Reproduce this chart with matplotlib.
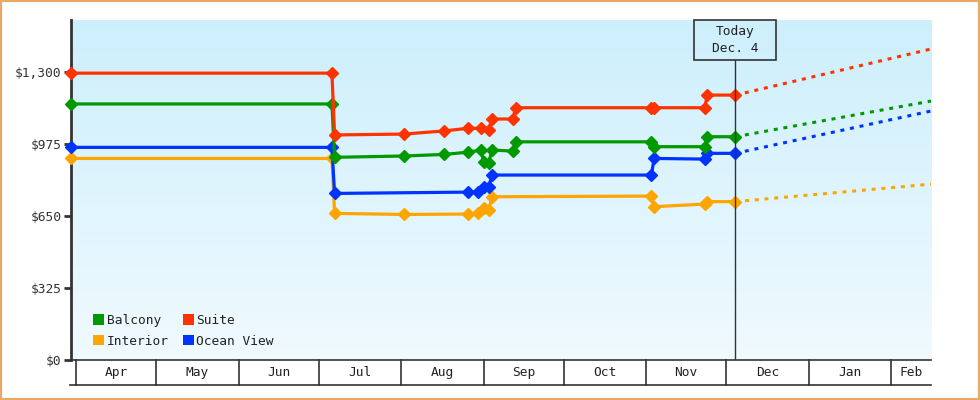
import numpy as np
import pandas as pd
import matplotlib.pyplot as plt
import matplotlib.dates as mdates
from matplotlib.colors import LinearSegmentedColormap
from matplotlib.patches import Rectangle, Patch
from matplotlib.transforms import blended_transform_factory

plt.rcParams['font.family'] = ['DejaVu Sans Mono']

# price history (observed fares)
suite_dates = ["2023-03-30", "2023-07-06", "2023-07-07", "2023-08-02", "2023-08-17", "2023-08-26",
               "2023-08-31", "2023-09-03", "2023-09-04", "2023-09-12", "2023-09-13", "2023-11-03",
               "2023-11-04", "2023-11-23", "2023-11-24", "2023-12-04 12:00"]
suite_prices = [1295, 1295, 1016, 1020, 1034, 1046, 1046, 1038, 1088, 1088, 1139, 1139, 1139, 1139, 1196, 1196]

balcony_dates = ["2023-03-30", "2023-07-06", "2023-07-07", "2023-08-02", "2023-08-17", "2023-08-26",
                 "2023-08-31", "2023-09-01", "2023-09-03", "2023-09-04", "2023-09-12", "2023-09-13",
                 "2023-11-03", "2023-11-04", "2023-11-23", "2023-11-24", "2023-12-04 12:00"]
balcony_prices = [1156, 1156, 915, 921, 928, 938, 948, 895, 891, 948, 943, 985, 985, 963, 963, 1008, 1008]

ocean_dates = ["2023-03-30", "2023-07-06", "2023-07-07", "2023-08-26", "2023-08-30", "2023-09-01",
               "2023-09-03", "2023-09-04", "2023-11-03", "2023-11-04", "2023-11-23", "2023-11-24",
               "2023-12-04 12:00"]
ocean_prices = [960, 960, 752, 758, 758, 783, 780, 835, 835, 910, 907, 933, 933]

interior_dates = ["2023-03-30", "2023-07-06", "2023-07-07", "2023-08-02", "2023-08-26", "2023-08-30",
                  "2023-09-01", "2023-09-03", "2023-09-04", "2023-11-03", "2023-11-04", "2023-11-23",
                  "2023-11-24", "2023-12-04 12:00"]
interior_prices = [910, 910, 662, 657, 659, 662, 685, 677, 737, 740, 692, 704, 715, 715]

# projected prices at end of window
proj_end = "2024-02-16"
proj_prices = {"Suite": 1404, "Balcony": 1169, "Ocean View": 1124, "Interior": 794}

today = "2023-12-04 12:00"
today_label = "Today\nDec. 4"
x_start = "2023-03-30"
y_ticks = [0, 325, 650, 975, 1300]
y_max = 1535

colors_map = {"Balcony": "#009900", "Suite": "#ff3300", "Interior": "#ffa500", "Ocean View": "#0033ff"}

series = [("Interior", interior_dates, interior_prices),
          ("Ocean View", ocean_dates, ocean_prices),
          ("Balcony", balcony_dates, balcony_prices),
          ("Suite", suite_dates, suite_prices)]

fs = 9.3

fig = plt.figure(figsize=(9.8, 4), dpi=100)
ax = fig.add_axes([71/980, 40/400, 860/980, 340/400])

# light blue gradient background
grad = np.linspace(0, 1, 256).reshape(-1, 1)
cmap_bg = LinearSegmentedColormap.from_list("bg", ["#f0faff", "#cdeffc"])
ax.imshow(grad, extent=[0, 1, 0, 1], transform=ax.transAxes, aspect='auto',
          cmap=cmap_bg, origin='lower', zorder=0)

today_dt = pd.Timestamp(today)
for i, (name, d, p) in enumerate(series):
    c = colors_map[name]
    dts = pd.to_datetime(d, format='mixed')
    ax.plot(dts, p, color=c, lw=2.3, marker='D', ms=6, zorder=3 + i, clip_on=False)
    ax.plot([today_dt, pd.Timestamp(proj_end)], [p[-1], proj_prices[name]], color=c, lw=2.2,
            ls=(0, (1.3, 1.9)), zorder=3 + i)

ax.set_xlim(pd.Timestamp(x_start), pd.Timestamp(proj_end))
ax.set_ylim(0, y_max)

ax.set_yticks(y_ticks)
ax.set_yticklabels(["$" + format(v, ",") for v in y_ticks])
ax.tick_params(axis='y', length=5, width=2, color='#333333', labelcolor='#333333',
               labelsize=fs, pad=2)
ax.set_xticks([])
for s in ['top', 'right']:
    ax.spines[s].set_visible(False)
ax.spines['left'].set_linewidth(2)
ax.spines['left'].set_color('#333333')
ax.spines['bottom'].set_linewidth(1.2)
ax.spines['bottom'].set_color('#333333')

# month boxes below the axis
trans = blended_transform_factory(ax.transData, ax.transAxes)
box_h = 25 / 340
months = pd.date_range("2023-04-01", "2024-02-01", freq="MS")
x_end = pd.Timestamp(proj_end)
for k, m in enumerate(months):
    ax.plot([m, m], [0, -box_h], color='#333333', lw=1.2, transform=trans, clip_on=False)
    nxt = months[k + 1] if k + 1 < len(months) else x_end
    mid = m + (min(nxt, x_end) - m) / 2
    ax.text(mid, -box_h / 2, m.strftime("%b"), transform=trans, ha='center', va='center',
            fontsize=fs, color='#222222')
ax.plot([-1 / 860, 1], [-box_h, -box_h], color='#333333', lw=1.2, transform=ax.transAxes,
        clip_on=False)

# today marker
box_w, tb_h = 82 / 860, 40 / 340
ax.axvline(today_dt, ymin=0, ymax=1 - tb_h, color='#333333', lw=1, zorder=10)
tx = (mdates.date2num(today_dt) - ax.get_xlim()[0]) / (ax.get_xlim()[1] - ax.get_xlim()[0])
ax.add_patch(Rectangle((tx - box_w / 2, 1 - tb_h), box_w, tb_h, transform=ax.transAxes,
                       facecolor='none', edgecolor='#333333', lw=1.2, clip_on=False, zorder=10))
ax.text(tx, 1 - tb_h / 2, today_label, transform=ax.transAxes, ha='center', va='center',
        fontsize=fs, color='#222222', linespacing=1.45, zorder=11)

# legend
handles = [Patch(facecolor=colors_map[n], edgecolor='none', label=n)
           for n in ["Balcony", "Interior", "Suite", "Ocean View"]]
ax.legend(handles=handles, ncol=2, loc='lower left', bbox_to_anchor=(0.0256, 0.036),
          frameon=False, fontsize=fs, handlelength=0.85, handleheight=0.85,
          handletextpad=0.2, columnspacing=1.1, labelspacing=0.6, labelcolor='#222222',
          borderpad=0, borderaxespad=0)

# orange outer border
fig.patches.append(Rectangle((0, 0), 1, 1, transform=fig.transFigure, fill=False,
                             edgecolor='#e9a966', lw=3))

fig.savefig("out.png", dpi=100)
